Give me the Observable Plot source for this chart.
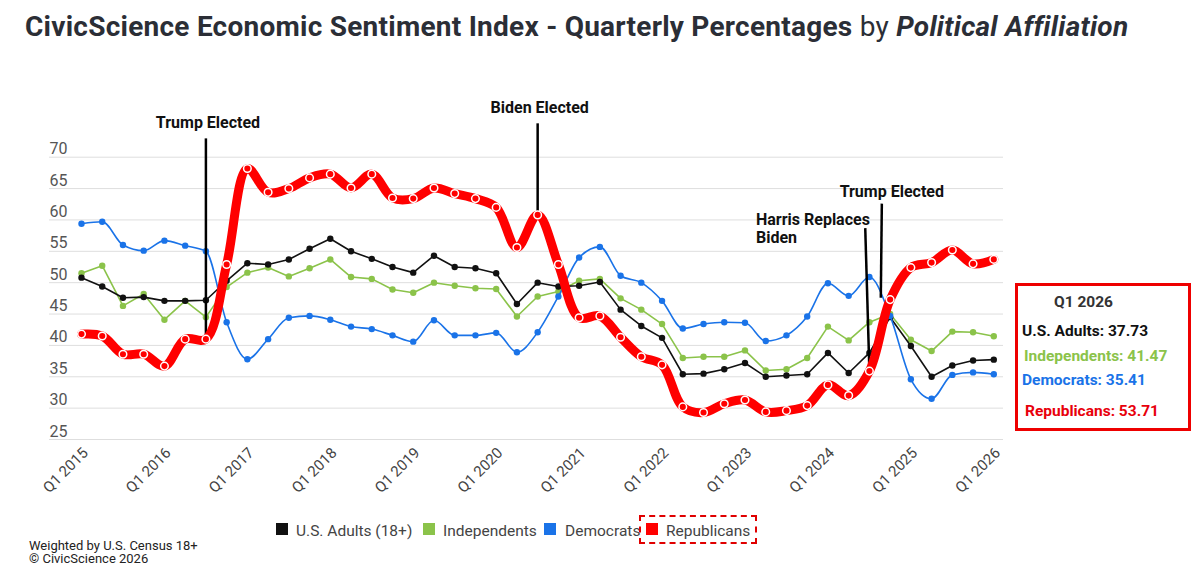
<!DOCTYPE html>
<html><head><meta charset="utf-8">
<script src="https://cdn.jsdelivr.net/npm/d3@7"></script>
<script src="https://cdn.jsdelivr.net/npm/@observablehq/plot@0.6"></script>
<style>
body{margin:0;background:#fff;font-family:Roboto,"Noto Sans",sans-serif;}
#wrap{position:relative;width:1200px;height:569px;overflow:hidden;background:#fff;}
#chart svg{position:absolute;left:0;top:0;}
.abs{position:absolute;white-space:nowrap;}
.title{left:25px;top:13px;font-size:28px;line-height:28px;letter-spacing:0.25px;font-weight:700;color:#2b2e36;}
.title .by{font-weight:400;}
.title .pa{font-style:italic;font-weight:700;}
.leg{font-size:15.5px;line-height:15px;color:#444;}
.sw{position:absolute;width:12px;height:12px;}
.foot{font-size:13px;line-height:13px;color:#222;}
.box{left:1015px;top:283px;width:176px;height:148px;box-sizing:border-box;border:3px solid #ee0000;}
.bt{font-size:15.5px;line-height:16px;font-weight:700;}
.dash{left:639px;top:515px;width:118px;height:29px;box-sizing:border-box;border:2.5px dashed #e00000;}
</style></head>
<body>
<div id="wrap">
  <div id="chart"></div>
  <div class="abs title">CivicScience Economic Sentiment Index - Quarterly Percentages <span class="by">by</span> <span class="pa">Political Affiliation</span></div>
  <div id="legend"></div>
  <div class="abs dash"></div>
  <div class="abs foot" style="left:29px;top:539px;">Weighted by U.S. Census 18+</div>
  <div class="abs foot" style="left:29px;top:552px;">© CivicScience 2026</div>
  <div class="abs box"></div>
  <div id="boxtext"></div>
</div>
<script>
// ---- data ----
const quarters = [
 "Q1 2015","Q2 2015","Q3 2015","Q4 2015",
 "Q1 2016","Q2 2016","Q3 2016","Q4 2016",
 "Q1 2017","Q2 2017","Q3 2017","Q4 2017",
 "Q1 2018","Q2 2018","Q3 2018","Q4 2018",
 "Q1 2019","Q2 2019","Q3 2019","Q4 2019",
 "Q1 2020","Q2 2020","Q3 2020","Q4 2020",
 "Q1 2021","Q2 2021","Q3 2021","Q4 2021",
 "Q1 2022","Q2 2022","Q3 2022","Q4 2022",
 "Q1 2023","Q2 2023","Q3 2023","Q4 2023",
 "Q1 2024","Q2 2024","Q3 2024","Q4 2024",
 "Q1 2025","Q2 2025","Q3 2025","Q4 2025",
 "Q1 2026"];
const usAdults = [50.8,49.4,47.6,47.7,47.1,47.1,47.2,50.3,53.1,52.9,53.7,55.4,57.0,55.0,53.8,52.5,51.6,54.3,52.5,52.3,51.5,46.6,50.0,49.4,49.5,50.1,45.7,43.1,41.2,35.4,35.5,36.2,37.2,35.0,35.2,35.4,38.8,35.6,38.8,44.5,39.9,35.0,36.8,37.6,37.73];
const independents = [51.5,52.7,46.3,48.2,44.1,47.1,44.5,49.3,51.6,52.4,51.0,52.3,53.7,50.9,50.6,48.9,48.4,50.0,49.5,49.1,49.0,44.6,47.8,48.6,50.3,50.6,47.5,45.7,43.4,38.0,38.2,38.2,39.2,36.0,36.2,38.0,43.0,40.8,43.7,45.0,40.9,39.1,42.2,42.1,41.47];
const democrats = [59.4,59.7,56.0,55.1,56.7,55.9,55.0,43.7,37.8,41.0,44.4,44.7,44.1,43.0,42.6,41.6,40.6,44.0,41.6,41.6,42.0,38.9,42.1,47.8,54.0,55.7,51.1,50.0,47.1,42.7,43.4,43.7,43.6,40.7,41.6,44.6,49.9,47.9,50.9,44.7,34.6,31.5,35.3,35.7,35.41];
const republicans = [41.8,41.5,38.6,38.6,36.7,41.0,41.0,52.9,68.2,64.4,65.0,66.7,67.3,65.1,67.3,63.5,63.4,65.1,64.2,63.4,62.0,55.6,60.8,52.9,44.4,44.7,41.3,38.2,36.9,30.2,29.3,30.7,31.3,29.4,29.6,30.4,33.7,32.0,35.9,47.3,52.4,53.2,55.2,53.0,53.71];
const xTickLabels = ["Q1 2015","Q1 2016","Q1 2017","Q1 2018","Q1 2019","Q1 2020","Q1 2021","Q1 2022","Q1 2023","Q1 2024","Q1 2025","Q1 2026"];
const yTicks = [25,30,35,40,45,50,55,60,65,70];
const seriesNames = ["U.S. Adults (18+)","Independents","Democrats","Republicans"];
const seriesColors = ["#111111","#8bc34a","#1a73e8","#ff0000"];
const boxLabels = ["U.S. Adults","Independents","Democrats","Republicans"];
// annotations: text, anchor (quarter index, value)
const centeredNotes = ["Trump Elected","Biden Elected","Trump Elected"];
const centeredAt = [[6.1,74.6],[22.1,77.1],[39.08,63.6]];
const leftNotes = ["Harris Replaces\nBiden"];
const leftAt = [[32.53,56.4]];
const annotationLines = [[6,73.0,6,41.0],[22,75.4,22,60.8],[37.8,58.7,38.0,35.9],[38.6,62.6,38.55,47.6]];

// ---- build tables ----
const mk = vals => vals.map((v,i)=>({i, q:quarters[i], v}));
const dUS = mk(usAdults), dInd = mk(independents), dDem = mk(democrats), dRep = mk(republicans);
const xTicks = xTickLabels.map(l => ({i: quarters.indexOf(l), l}));
const annC = centeredNotes.map((t,k)=>({t, i:centeredAt[k][0], v:centeredAt[k][1]}));
const annLft = leftNotes.map((t,k)=>({t, i:leftAt[k][0], v:leftAt[k][1]}));
const annL = annotationLines.map(a=>({x1:a[0],y1:a[1],x2:a[2],y2:a[3]}));

const chart = Plot.plot({
  width: 1200, height: 569,
  marginLeft: 49, marginRight: 197, marginTop: 0, marginBottom: 0,
  style: {fontFamily: "Roboto, sans-serif", fontSize: "16px", background: "transparent", overflow: "visible"},
  x: {type: "linear", domain: [0, quarters.length - 1], range: [81, 993.3], axis: null},
  y: {type: "linear", domain: [25, 70], range: [439, 156.7], axis: null},
  marks: [
    Plot.ruleY(yTicks, {y: d=>d, stroke: "#dedede", strokeWidth: 1}),
    Plot.text(yTicks, {y: d=>d, text: d=>String(d), frameAnchor: "left", textAnchor: "start", lineAnchor: "bottom", dy: -3, fill: "#555", fontSize: 16}),
    Plot.text(xTicks, {x: "i", y: () => 25, text: "l", rotate: -45, textAnchor: "end", lineAnchor: "middle", dx: 4, dy: 11, fill: "#444", fontSize: 15}),
    Plot.line(dInd, {x: "i", y: "v", stroke: seriesColors[1], strokeWidth: 1.6}),
    Plot.dot(dInd, {x: "i", y: "v", r: 3.2, fill: seriesColors[1]}),
    Plot.line(dUS, {x: "i", y: "v", stroke: seriesColors[0], strokeWidth: 1.6}),
    Plot.dot(dUS, {x: "i", y: "v", r: 3.2, fill: seriesColors[0]}),
    Plot.line(dDem, {x: "i", y: "v", stroke: seriesColors[2], strokeWidth: 1.6, curve: "monotone-x"}),
    Plot.dot(dDem, {x: "i", y: "v", r: 3.2, fill: seriesColors[2]}),
    Plot.link(annL, {x1: "x1", y1: "y1", x2: "x2", y2: "y2", stroke: "#000", strokeWidth: 2.5}),
    Plot.line(dRep, {x: "i", y: "v", stroke: seriesColors[3], strokeWidth: 9, curve: "catmull-rom", strokeLinejoin: "round", strokeLinecap: "round"}),
    Plot.dot(dRep, {x: "i", y: "v", r: 3.8, fill: seriesColors[3], stroke: "#fff", strokeWidth: 1.5}),
    Plot.text(annC, {x: "i", y: "v", text: "t", textAnchor: "middle", lineAnchor: "bottom", fontWeight: 700, fontSize: 16, fill: "#111"}),
    Plot.text(annLft, {x: "i", y: "v", text: "t", textAnchor: "start", lineAnchor: "bottom", lineHeight: 1.08, fontWeight: 700, fontSize: 16, fill: "#111"})
  ]
});
document.getElementById("chart").appendChild(chart);

// ---- legend ----
const legPos = [[276,296],[423,443],[544,565],[646,666]];
const leg = document.getElementById("legend");
seriesNames.forEach((n,k)=>{
  const s = document.createElement("div"); s.className="sw";
  s.style.left = legPos[k][0]+"px"; s.style.top = "523px"; s.style.background = seriesColors[k];
  leg.appendChild(s);
  const t = document.createElement("div"); t.className="abs leg"; t.textContent = n;
  t.style.left = legPos[k][1]+"px"; t.style.top = "524px";
  leg.appendChild(t);
});

// ---- Q1 2026 box ----
const last = quarters.length - 1;
const boxVals = [usAdults[last], independents[last], democrats[last], republicans[last]];
const boxColors = ["#111111","#8bc34a","#1a73e8","#e8000b"];
const bt = document.getElementById("boxtext");
const head = document.createElement("div"); head.className="abs bt"; head.textContent = quarters[last];
head.style.left="1054px"; head.style.top="294px"; head.style.color="#333"; bt.appendChild(head);
const rowTops = [323,347.5,371.5,403];
const rowLefts = [1022,1024,1022,1025];
boxLabels.forEach((n,k)=>{
  const t = document.createElement("div"); t.className="abs bt";
  t.textContent = n + ": " + boxVals[k].toFixed(2);
  t.style.left = rowLefts[k]+"px"; t.style.top = rowTops[k]+"px"; t.style.color = boxColors[k];
  bt.appendChild(t);
});
</script>
</body></html>
